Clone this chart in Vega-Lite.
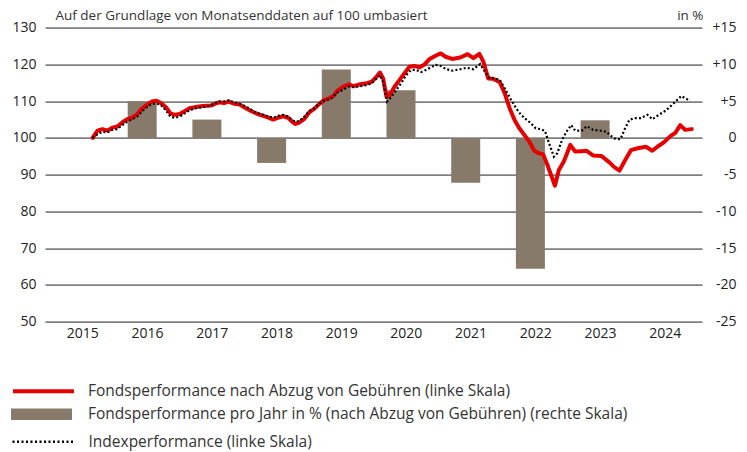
{
  "$schema": "https://vega.github.io/schema/vega-lite/v6.json",
  "width": 657,
  "height": 294,
  "autosize": "none",
  "padding": {"left": 45, "top": 27.7, "right": 45, "bottom": 130.3},
  "background": "white",
  "config": {"view": {"stroke": null}},
  "datasets": {
    "balken": [
      {"jahr": 2016, "t": 2016.425, "wert": 5.0},
      {"jahr": 2017, "t": 2017.425, "wert": 2.5},
      {"jahr": 2018, "t": 2018.425, "wert": -3.4},
      {"jahr": 2019, "t": 2019.425, "wert": 9.3},
      {"jahr": 2020, "t": 2020.425, "wert": 6.5},
      {"jahr": 2021, "t": 2021.425, "wert": -6.1},
      {"jahr": 2022, "t": 2022.425, "wert": -17.8},
      {"jahr": 2023, "t": 2023.425, "wert": 2.4}
    ],
    "fonds": [
      {"t": 2015.659, "wert": 100.0}, {"t": 2015.735, "wert": 102.0}, {"t": 2015.811, "wert": 102.4},
      {"t": 2015.887, "wert": 102.0}, {"t": 2015.963, "wert": 102.8}, {"t": 2016.040, "wert": 103.1},
      {"t": 2016.116, "wert": 104.2}, {"t": 2016.192, "wert": 105.1}, {"t": 2016.268, "wert": 105.5},
      {"t": 2016.344, "wert": 106.4}, {"t": 2016.420, "wert": 107.9}, {"t": 2016.496, "wert": 109.0},
      {"t": 2016.572, "wert": 109.9}, {"t": 2016.648, "wert": 110.1}, {"t": 2016.724, "wert": 109.4},
      {"t": 2016.801, "wert": 108.2}, {"t": 2016.861, "wert": 106.7}, {"t": 2016.928, "wert": 106.3},
      {"t": 2017.005, "wert": 106.5}, {"t": 2017.081, "wert": 107.3}, {"t": 2017.157, "wert": 108.1},
      {"t": 2017.257, "wert": 108.4}, {"t": 2017.359, "wert": 108.7}, {"t": 2017.486, "wert": 108.8},
      {"t": 2017.537, "wert": 109.2}, {"t": 2017.613, "wert": 109.7}, {"t": 2017.689, "wert": 109.5},
      {"t": 2017.766, "wert": 109.9}, {"t": 2017.842, "wert": 109.3}, {"t": 2017.918, "wert": 109.2},
      {"t": 2017.994, "wert": 108.4}, {"t": 2018.070, "wert": 107.7}, {"t": 2018.146, "wert": 107.0},
      {"t": 2018.222, "wert": 106.4}, {"t": 2018.298, "wert": 106.0}, {"t": 2018.374, "wert": 105.5},
      {"t": 2018.451, "wert": 105.0}, {"t": 2018.527, "wert": 105.5}, {"t": 2018.603, "wert": 105.9},
      {"t": 2018.679, "wert": 105.5}, {"t": 2018.744, "wert": 104.4}, {"t": 2018.795, "wert": 103.8},
      {"t": 2018.855, "wert": 104.2}, {"t": 2018.932, "wert": 105.2}, {"t": 2019.008, "wert": 107.0},
      {"t": 2019.084, "wert": 107.9}, {"t": 2019.160, "wert": 109.2}, {"t": 2019.236, "wert": 110.3},
      {"t": 2019.312, "wert": 110.8}, {"t": 2019.388, "wert": 111.5}, {"t": 2019.440, "wert": 112.8},
      {"t": 2019.540, "wert": 114.0}, {"t": 2019.616, "wert": 114.6}, {"t": 2019.693, "wert": 114.1},
      {"t": 2019.795, "wert": 114.6}, {"t": 2019.896, "wert": 114.9}, {"t": 2019.973, "wert": 115.3},
      {"t": 2020.049, "wert": 116.7}, {"t": 2020.099, "wert": 117.8}, {"t": 2020.149, "wert": 116.2},
      {"t": 2020.201, "wert": 111.2}, {"t": 2020.251, "wert": 111.7}, {"t": 2020.327, "wert": 114.0},
      {"t": 2020.403, "wert": 115.8}, {"t": 2020.479, "wert": 117.6}, {"t": 2020.556, "wert": 119.4},
      {"t": 2020.632, "wert": 119.6}, {"t": 2020.708, "wert": 119.2}, {"t": 2020.784, "wert": 119.9},
      {"t": 2020.860, "wert": 121.4}, {"t": 2020.951, "wert": 122.3}, {"t": 2021.038, "wert": 123.0},
      {"t": 2021.114, "wert": 122.1}, {"t": 2021.215, "wert": 121.5}, {"t": 2021.342, "wert": 121.9},
      {"t": 2021.454, "wert": 122.8}, {"t": 2021.545, "wert": 121.7}, {"t": 2021.636, "wert": 122.9},
      {"t": 2021.697, "wert": 120.8}, {"t": 2021.773, "wert": 116.2}, {"t": 2021.849, "wert": 116.1},
      {"t": 2021.951, "wert": 115.2}, {"t": 2022.027, "wert": 112.2}, {"t": 2022.104, "wert": 108.1},
      {"t": 2022.180, "wert": 104.9}, {"t": 2022.256, "wert": 102.6}, {"t": 2022.332, "wert": 100.8},
      {"t": 2022.408, "wert": 99.0}, {"t": 2022.484, "wert": 96.5}, {"t": 2022.560, "wert": 95.8},
      {"t": 2022.621, "wert": 95.6}, {"t": 2022.687, "wert": 92.7}, {"t": 2022.763, "wert": 89.0},
      {"t": 2022.804, "wert": 87.0}, {"t": 2022.865, "wert": 91.3}, {"t": 2022.941, "wert": 93.6},
      {"t": 2022.991, "wert": 95.8}, {"t": 2023.041, "wert": 98.1}, {"t": 2023.117, "wert": 96.3},
      {"t": 2023.219, "wert": 96.4}, {"t": 2023.295, "wert": 96.5}, {"t": 2023.397, "wert": 95.2},
      {"t": 2023.524, "wert": 95.1}, {"t": 2023.650, "wert": 93.3}, {"t": 2023.726, "wert": 92.0},
      {"t": 2023.802, "wert": 91.1}, {"t": 2023.878, "wert": 93.6}, {"t": 2023.980, "wert": 96.7},
      {"t": 2024.082, "wert": 97.2}, {"t": 2024.209, "wert": 97.6}, {"t": 2024.310, "wert": 96.5},
      {"t": 2024.387, "wert": 97.6}, {"t": 2024.487, "wert": 98.8}, {"t": 2024.589, "wert": 100.5},
      {"t": 2024.665, "wert": 101.4}, {"t": 2024.741, "wert": 103.5}, {"t": 2024.817, "wert": 102.2},
      {"t": 2024.919, "wert": 102.4}
    ],
    "index": [
      {"t": 2015.659, "wert": 100.0}, {"t": 2015.735, "wert": 101.0}, {"t": 2015.811, "wert": 101.7},
      {"t": 2015.887, "wert": 101.5}, {"t": 2015.963, "wert": 102.2}, {"t": 2016.040, "wert": 102.4},
      {"t": 2016.116, "wert": 103.5}, {"t": 2016.192, "wert": 104.4}, {"t": 2016.268, "wert": 105.1},
      {"t": 2016.344, "wert": 105.8}, {"t": 2016.420, "wert": 107.2}, {"t": 2016.496, "wert": 108.4},
      {"t": 2016.572, "wert": 109.3}, {"t": 2016.648, "wert": 109.4}, {"t": 2016.724, "wert": 108.8},
      {"t": 2016.801, "wert": 107.3}, {"t": 2016.861, "wert": 105.8}, {"t": 2016.928, "wert": 105.5},
      {"t": 2017.005, "wert": 105.8}, {"t": 2017.081, "wert": 106.7}, {"t": 2017.157, "wert": 107.6},
      {"t": 2017.257, "wert": 108.1}, {"t": 2017.359, "wert": 108.4}, {"t": 2017.486, "wert": 108.8},
      {"t": 2017.537, "wert": 109.4}, {"t": 2017.613, "wert": 109.9}, {"t": 2017.689, "wert": 109.9},
      {"t": 2017.766, "wert": 110.2}, {"t": 2017.842, "wert": 109.7}, {"t": 2017.918, "wert": 109.4},
      {"t": 2017.994, "wert": 108.8}, {"t": 2018.070, "wert": 108.1}, {"t": 2018.146, "wert": 107.3},
      {"t": 2018.222, "wert": 106.7}, {"t": 2018.298, "wert": 106.3}, {"t": 2018.374, "wert": 105.8},
      {"t": 2018.451, "wert": 105.5}, {"t": 2018.527, "wert": 106.0}, {"t": 2018.603, "wert": 106.3},
      {"t": 2018.679, "wert": 105.8}, {"t": 2018.744, "wert": 104.9}, {"t": 2018.795, "wert": 104.4},
      {"t": 2018.855, "wert": 104.6}, {"t": 2018.932, "wert": 105.8}, {"t": 2019.008, "wert": 107.3},
      {"t": 2019.084, "wert": 108.1}, {"t": 2019.160, "wert": 109.4}, {"t": 2019.236, "wert": 110.1},
      {"t": 2019.338, "wert": 110.6}, {"t": 2019.440, "wert": 112.4}, {"t": 2019.540, "wert": 113.2},
      {"t": 2019.616, "wert": 114.0}, {"t": 2019.693, "wert": 113.8}, {"t": 2019.795, "wert": 114.1},
      {"t": 2019.896, "wert": 114.4}, {"t": 2019.973, "wert": 114.9}, {"t": 2020.049, "wert": 116.2},
      {"t": 2020.099, "wert": 117.1}, {"t": 2020.149, "wert": 115.3}, {"t": 2020.210, "wert": 109.9},
      {"t": 2020.277, "wert": 111.2}, {"t": 2020.353, "wert": 113.1}, {"t": 2020.429, "wert": 114.9},
      {"t": 2020.505, "wert": 117.1}, {"t": 2020.581, "wert": 118.5}, {"t": 2020.658, "wert": 118.5},
      {"t": 2020.734, "wert": 117.9}, {"t": 2020.810, "wert": 118.5}, {"t": 2020.886, "wert": 119.2},
      {"t": 2020.962, "wert": 119.9}, {"t": 2021.038, "wert": 119.6}, {"t": 2021.114, "wert": 118.8},
      {"t": 2021.215, "wert": 118.3}, {"t": 2021.342, "wert": 118.7}, {"t": 2021.443, "wert": 119.1},
      {"t": 2021.545, "wert": 118.7}, {"t": 2021.647, "wert": 120.1}, {"t": 2021.723, "wert": 118.0},
      {"t": 2021.799, "wert": 116.2}, {"t": 2021.875, "wert": 116.2}, {"t": 2021.951, "wert": 115.8},
      {"t": 2022.027, "wert": 113.5}, {"t": 2022.128, "wert": 110.3}, {"t": 2022.204, "wert": 108.1},
      {"t": 2022.280, "wert": 106.3}, {"t": 2022.356, "wert": 105.1}, {"t": 2022.432, "wert": 104.0},
      {"t": 2022.508, "wert": 102.6}, {"t": 2022.584, "wert": 102.4}, {"t": 2022.651, "wert": 101.9},
      {"t": 2022.712, "wert": 98.6}, {"t": 2022.788, "wert": 94.9}, {"t": 2022.839, "wert": 95.8},
      {"t": 2022.915, "wert": 99.5}, {"t": 2022.991, "wert": 101.9}, {"t": 2023.056, "wert": 103.5},
      {"t": 2023.117, "wert": 102.0}, {"t": 2023.219, "wert": 102.0}, {"t": 2023.295, "wert": 103.2},
      {"t": 2023.397, "wert": 102.2}, {"t": 2023.498, "wert": 102.0}, {"t": 2023.600, "wert": 101.7},
      {"t": 2023.676, "wert": 100.5}, {"t": 2023.752, "wert": 99.6}, {"t": 2023.817, "wert": 99.7},
      {"t": 2023.878, "wert": 102.2}, {"t": 2023.954, "wert": 104.9}, {"t": 2024.030, "wert": 105.4},
      {"t": 2024.132, "wert": 105.4}, {"t": 2024.234, "wert": 106.3}, {"t": 2024.310, "wert": 105.1},
      {"t": 2024.411, "wert": 106.3}, {"t": 2024.513, "wert": 107.4}, {"t": 2024.615, "wert": 109.0},
      {"t": 2024.691, "wert": 110.3}, {"t": 2024.756, "wert": 111.4}, {"t": 2024.817, "wert": 110.8},
      {"t": 2024.893, "wert": 110.1}
    ]
  },
  "encoding": {
    "x": {
      "field": "t",
      "type": "quantitative",
      "scale": {"domain": [2015, 2025], "nice": false, "zero": false},
      "axis": {
        "values": [2015.5, 2016.5, 2017.5, 2018.5, 2019.5, 2020.5, 2021.5, 2022.5, 2023.5, 2024.5],
        "labelExpr": "'' + floor(datum.value)",
        "grid": false,
        "domain": false,
        "ticks": false,
        "tickSize": 0,
        "labelPadding": 5,
        "labelFont": "Open Sans",
        "labelFontSize": 14,
        "labelColor": "#222222",
        "title": null
      }
    }
  },
  "layer": [
    {
      "data": {"name": "balken"},
      "mark": {"type": "bar", "width": 29, "color": "#877a6b"},
      "encoding": {
        "y": {
          "field": "wert",
          "type": "quantitative",
          "scale": {"domain": [-25, 15], "nice": false},
          "axis": {
            "orient": "right",
            "values": [-25, -20, -15, -10, -5, 0, 5, 10, 15],
            "labelExpr": "datum.value > 0 ? '+' + datum.value : (datum.value == 0 ? '0\u2007' : '' + datum.value)",
            "grid": false,
            "domain": false,
            "ticks": false,
            "tickSize": 0,
            "labelAlign": "right",
            "labelPadding": 34,
            "labelFont": "Open Sans",
            "labelFontSize": 14,
            "labelColor": "#222222",
            "title": "in %",
            "titleAngle": 0,
            "titleAlign": "right",
            "titleBaseline": "alphabetic",
            "titleX": 1,
            "titleY": -8.5,
            "titleFont": "Open Sans",
            "titleFontSize": 13.5,
            "titleFontWeight": "normal",
            "titleColor": "#333333"
          }
        },
        "color": {
          "datum": "Fondsperformance pro Jahr in % (nach Abzug von Gebühren) (rechte Skala)",
          "type": "nominal",
          "scale": {"range": ["#877a6b"]},
          "legend": {
            "orient": "none",
            "legendX": -34,
            "legendY": 356,
            "title": null,
            "padding": 0,
            "symbolType": "M-1,-0.19H1V0.19H-1Z",
            "symbolSize": 3721,
            "symbolStrokeWidth": 0,
            "labelOffset": 16,
            "labelFont": "Open Sans",
            "labelFontSize": 15.5,
            "labelColor": "#333333",
            "labelLimit": 0
          }
        }
      }
    },
    {
      "data": {"name": "fonds"},
      "mark": {"type": "line", "strokeWidth": 4, "strokeJoin": "round", "strokeCap": "round"},
      "encoding": {
        "y": {
          "field": "wert",
          "type": "quantitative",
          "scale": {"domain": [50, 130], "nice": false, "zero": false},
          "axis": {
            "orient": "left",
            "values": [50, 60, 70, 80, 90, 100, 110, 120, 130],
            "grid": true,
            "gridColor": "#808080",
            "gridWidth": 1.8,
            "domain": false,
            "ticks": false,
            "tickSize": 0,
            "labelPadding": 9,
            "labelFont": "Open Sans",
            "labelFontSize": 14,
            "labelColor": "#222222",
            "title": "Auf der Grundlage von Monatsenddaten auf 100 umbasiert",
            "titleAngle": 0,
            "titleAlign": "left",
            "titleBaseline": "alphabetic",
            "titleX": 10,
            "titleY": -8.5,
            "titleFont": "Open Sans",
            "titleFontSize": 13.5,
            "titleFontWeight": "normal",
            "titleColor": "#333333"
          }
        },
        "color": {
          "datum": "Fondsperformance nach Abzug von Gebühren (linke Skala)",
          "type": "nominal",
          "scale": {"range": ["#e60000"]},
          "legend": {
            "orient": "none",
            "legendX": -34,
            "legendY": 331,
            "title": null,
            "padding": 0,
            "symbolType": "stroke",
            "symbolSize": 3721,
            "symbolStrokeWidth": 4,
            "labelOffset": 12,
            "labelFont": "Open Sans",
            "labelFontSize": 15.5,
            "labelColor": "#333333",
            "labelLimit": 0
          }
        }
      }
    },
    {
      "data": {"name": "index"},
      "mark": {"type": "line", "strokeWidth": 2.2, "strokeDash": [2, 2.2]},
      "encoding": {
        "y": {
          "field": "wert",
          "type": "quantitative",
          "scale": {"domain": [50, 130], "nice": false, "zero": false},
          "axis": null
        },
        "color": {
          "datum": "Indexperformance (linke Skala)",
          "type": "nominal",
          "scale": {"range": ["#000000"]},
          "legend": {
            "orient": "none",
            "legendX": -34,
            "legendY": 382,
            "title": null,
            "padding": 0,
            "symbolType": "stroke",
            "symbolSize": 3721,
            "symbolStrokeWidth": 2.5,
            "symbolDash": [2, 2.5],
            "labelOffset": 13.5,
            "labelFont": "Open Sans",
            "labelFontSize": 15.5,
            "labelColor": "#333333",
            "labelLimit": 0
          }
        }
      }
    }
  ],
  "resolve": {"scale": {"y": "independent", "color": "independent"}, "legend": {"color": "independent"}}
}
